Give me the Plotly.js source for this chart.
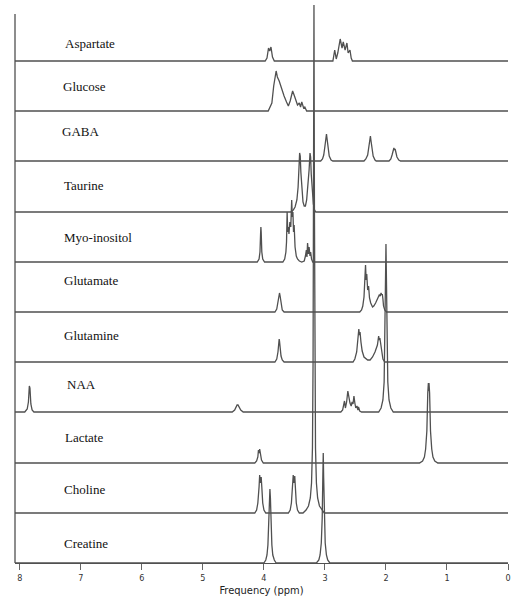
<!DOCTYPE html>
<html>
<head>
<meta charset="utf-8">
<script src="https://cdn.plot.ly/plotly-3.0.1.min.js"></script>
<style>html,body{margin:0;padding:0;background:#fff;}#chart{width:512px;height:601px;}</style>
</head>
<body>
<div id="chart"></div>
<script>
// ---- data (chemical shift in ppm, peak height) ----
const metabolites = ["Aspartate","Glucose","GABA","Taurine","Myo-inositol","Glutamate","Glutamine","NAA","Lactate","Choline","Creatine"];

const aspartatePpm = [3.98,3.95,3.925,3.905,3.885,3.86,3.83, 2.87,2.84,2.815,2.79,2.75,2.72,2.70,2.67,2.64,2.62,2.59,2.57,2.55];
const aspartateAmp = [0,3,13,10,14,4,0, 0,11,2,8,22,13,19,11,18,8,11,3,0];

const glucosePpm = [3.93,3.87,3.84,3.80,3.78,3.75,3.72,3.70,3.67,3.63,3.60,3.57,3.53,3.50,3.48,3.45,3.42,3.40,3.38,3.35,3.33,3.30];
const glucoseAmp = [0,8,25,40,34,30,24,22,15,9,5,10,20,15,12,6,8,4,9,3,4,0];

const gabaPpm = [3.07,3.04,3.02,3.00,2.985,2.975,2.965,2.95,2.93,2.90,2.87, 2.36,2.33,2.30,2.28,2.265,2.255,2.245,2.23,2.21,2.18,2.16, 1.95,1.92,1.90,1.885,1.87,1.86,1.85,1.835,1.82,1.79,1.76];
const gabaAmp = [0,2,6,15,25,27,22,12,5,1,0, 0,2,6,15,24,25,20,11,5,1,0, 0,2,6,10,13,11,12,8,4,1,0];

const taurinePpm = [3.56,3.52,3.49,3.46,3.44,3.425,3.415,3.405,3.395,3.38,3.36,3.34,3.32,3.30,3.28,3.26,3.245,3.235,3.225,3.21,3.19,3.17,3.15];
const taurineAmp = [0,2,5,12,25,45,59,56,40,22,10,6,6,12,24,42,59,55,38,20,8,2,0];

const myoPpm = [4.11,4.08,4.065,4.055,4.05,4.045,4.035,4.02,3.99, 3.69,3.66,3.64,3.63,3.62,3.61,3.60,3.59,3.575,3.56,3.545,3.535,3.525,3.515,3.505,3.49,3.47,3.45,3.42,3.38, 3.34,3.32,3.305,3.295,3.285,3.27,3.26,3.245,3.235,3.22,3.20];
const myoAmp = [0,3,10,28,35,30,10,3,0, 0,3,10,20,50,30,35,28,40,35,62,45,50,30,37,15,6,3,1,0, 1,6,12,5,19,8,15,6,10,3,0];

const glutamatePpm = [3.82,3.79,3.77,3.755,3.745,3.735,3.72,3.70,3.67, 2.43,2.40,2.38,2.36,2.345,2.335,2.325,2.315,2.30,2.285,2.27,2.25,2.22,2.20,2.17,2.14,2.11,2.095,2.08,2.07,2.06,2.05,2.04,2.02,1.99];
const glutamateAmp = [0,3,9,17,19,16,8,2,0, 0,2,6,15,30,47,32,38,22,26,14,9,5,6,9,13,17,16,19,17,18,13,6,2,0];

const glutaminePpm = [3.82,3.79,3.77,3.755,3.75,3.745,3.735,3.72,3.70,3.67, 2.54,2.51,2.48,2.46,2.445,2.435,2.425,2.41,2.39,2.36,2.33,2.30,2.26,2.22,2.18,2.14,2.12,2.11,2.10,2.085,2.07,2.05,2.02];
const glutamineAmp = [0,3,10,20,23,21,15,6,2,0, 0,3,10,20,33,27,30,20,11,5,3,2,2,5,10,17,26,22,24,16,8,3,0];

const naaPpm = [7.92,7.88,7.86,7.845,7.835,7.82,7.80,7.77, 4.52,4.48,4.455,4.44,4.425,4.41,4.38,4.34, 2.74,2.71,2.695,2.68,2.665,2.645,2.625,2.61,2.59,2.57,2.555,2.54,2.525,2.51,2.495,2.475,2.46,2.45,2.43,2.40, 2.12,2.08,2.05,2.03,2.017,2.008,2.0,1.992,1.983,1.97,1.95,1.92,1.88];
const naaAmp = [0,3,10,26,24,8,2,0, 0,2,5,7,7,5,2,0, 0,2,8,11,4,10,21,14,9,6,10,8,16,9,4,6,2,5,1,0, 0,4,12,30,70,130,168,130,70,30,12,4,0];

const lactatePpm = [4.15,4.12,4.10,4.09,4.08,4.07,4.06,4.04,4.01, 1.45,1.40,1.37,1.35,1.33,1.315,1.305,1.30,1.295,1.285,1.27,1.25,1.23,1.20,1.15];
const lactateAmp = [0,2,6,13,10,14,8,3,0, 0,2,6,14,32,70,80,72,80,70,32,14,6,2,0];

const cholinePpm = [4.15,4.12,4.10,4.08,4.07,4.06,4.045,4.035,4.02,4.00,3.97, 3.60,3.57,3.55,3.53,3.52,3.51,3.495,3.485,3.47,3.45,3.42, 3.36,3.31,3.27,3.24,3.22,3.205,3.195,3.188,3.18,3.172,3.165,3.155,3.14,3.12,3.09,3.05,3.01];
const cholineAmp = [0,3,10,26,38,30,36,26,10,3,0, 0,3,10,26,38,30,37,26,10,3,0, 0,3,7,15,30,65,150,300,508,300,150,65,30,15,7,3,0];

const creatinePpm = [4.00,3.97,3.95,3.935,3.92,3.91,3.902,3.894,3.884,3.87,3.855,3.83,3.80, 3.14,3.10,3.08,3.06,3.045,3.035,3.028,3.021,3.011,2.996,2.976,2.955,2.92];
const creatineAmp = [0,3,8,18,40,65,74,65,40,18,8,3,0, 0,3,8,20,45,85,110,85,45,20,8,3,0];

const xTickVals = [0,1,2,3,4,5,6,7,8];
const xAxisTitle = "Frequency (ppm)";

// ---- layout config (positions, not data) ----
const W = 512, H = 601;
const M = {l: 15, r: 4, t: 4, b: 38};
const plotH = H - M.t - M.b;           // 559, one y unit = one pixel
const xMax = 8.08;
const stackOffsets = [502,452,402,351,301,251,201,151,100,50,0];
const labelPx = [[63,43],[61,87],[60,131],[62,185],[62,238],[62,280],[62,335],[65,384],[63,437],[62,489],[62,543]];
const lineColor = "#505050";

const series = [
  [aspartatePpm, aspartateAmp],[glucosePpm, glucoseAmp],[gabaPpm, gabaAmp],[taurinePpm, taurineAmp],
  [myoPpm, myoAmp],[glutamatePpm, glutamateAmp],[glutaminePpm, glutamineAmp],[naaPpm, naaAmp],
  [lactatePpm, lactateAmp],[cholinePpm, cholineAmp],[creatinePpm, creatineAmp]
];

const traces = series.map((s, i) => {
  const off = stackOffsets[i];
  const xs = [xMax].concat(s[0], [0]);
  const ys = [off].concat(s[1].map(v => v + off), [off]);
  return {
    type: "scatter", mode: "lines", x: xs, y: ys, name: metabolites[i],
    line: {color: lineColor, width: 1.3}, hoverinfo: "skip", cliponaxis: true
  };
});

const annotations = metabolites.map((m, i) => ({
  text: m, xref: "paper", yref: "paper",
  x: (labelPx[i][0] - M.l) / (W - M.l - M.r),
  y: (H - M.b - labelPx[i][1]) / plotH,
  xanchor: "left", yanchor: "middle", showarrow: false,
  font: {family: "Liberation Serif, Times New Roman, serif", size: 13, color: "#111111"}
}));

const layout = {
  width: W, height: H,
  margin: M,
  paper_bgcolor: "#ffffff", plot_bgcolor: "#ffffff",
  showlegend: false,
  xaxis: {
    range: [xMax, 0], tickvals: xTickVals, ticktext: xTickVals.map(String),
    showgrid: false, zeroline: false, showline: true, linecolor: lineColor, linewidth: 1.3,
    ticks: "outside", ticklen: 6, tickcolor: "#666", tickwidth: 1,
    tickfont: {family: "Liberation Sans Narrow, DejaVu Sans Condensed, sans-serif", size: 9, color: "#333"},
    title: {text: xAxisTitle, standoff: 4, font: {family: "Liberation Sans Narrow, DejaVu Sans Condensed, sans-serif", size: 11, color: "#222"}}
  },
  yaxis: {range: [0, plotH], visible: false, showgrid: false, zeroline: false, fixedrange: true},
  shapes: [{type: "line", xref: "paper", yref: "paper", x0: 0, x1: 0, y0: 0, y1: (H - M.b - 14) / plotH,
            line: {color: lineColor, width: 1.3}}],
  annotations: annotations
};

Plotly.newPlot("chart", traces, layout, {staticPlot: true, displayModeBar: false});
</script>
</body>
</html>
